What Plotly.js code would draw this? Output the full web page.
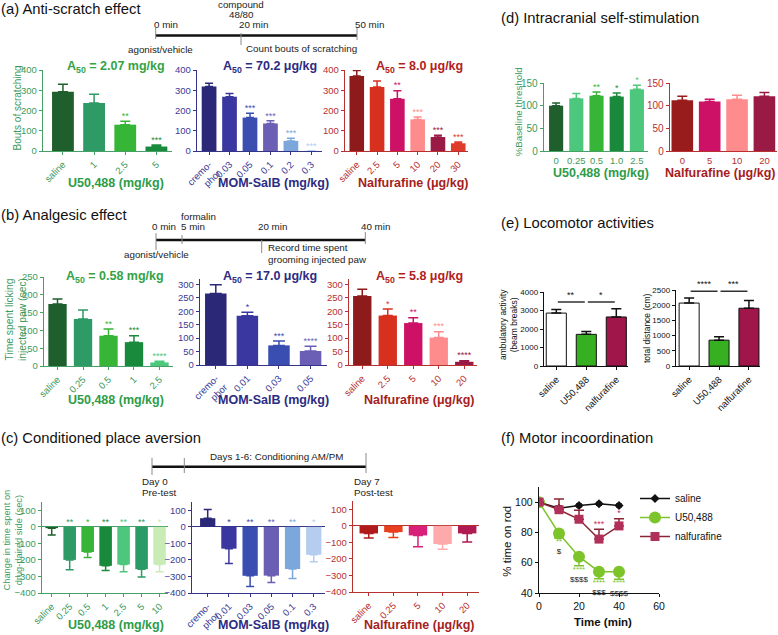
<!DOCTYPE html>
<html>
<head>
<meta charset="utf-8">
<script src="https://cdn.plot.ly/plotly-3.0.1.min.js"></script>
<style>html,body{margin:0;padding:0;background:#fff;}</style>
</head>
<body>
<div id="chart" style="width:778px;height:635px;"></div>
<script>
// (a) anti-scratch effect
const aU50Cats = ['saline', '1', '2.5', '5'];
const aU50Vals = [292, 237, 130, 22];
const aU50Err = [38, 43, 17, 8];
const aU50Stars = ['', '', '**', '***'];
const aMomCats = ['cremo-<br>phor', '0.03', '0.05', '0.1', '0.2', '0.3'];
const aMomVals = [319, 268, 165, 136, 50, 1];
const aMomErr = [15, 16, 22, 13, 13, 0];
const aMomStars = ['', '', '***', '***', '***', '***'];
const aNalCats = ['saline', '2.5', '5', '10', '20', '30'];
const aNalVals = [370, 316, 258, 156, 69, 38];
const aNalErr = [28, 30, 40, 12, 9, 6];
const aNalStars = ['', '', '**', '***', '***', '***'];

// (b) analgesic effect
const bU50Cats = ['saline', '0.25', '0.5', '1', '2.5'];
const bU50Vals = [174, 132, 85, 67, 10];
const bU50Err = [14, 25, 19, 18, 3];
const bU50Stars = ['', '', '**', '***', '****'];
const bMomCats = ['cremo-<br>phor', '0.01', '0.03', '0.05'];
const bMomVals = [266, 183, 73, 52];
const bMomErr = [33, 13, 16, 18];
const bMomStars = ['', '*', '***', '****'];
const bNalCats = ['saline', '2.5', '5', '10', '20'];
const bNalVals = [257, 184, 156, 102, 12];
const bNalErr = [25, 24, 20, 22, 4];
const bNalStars = ['', '*', '**', '***', '****'];

// (c) conditioned place aversion
const cU50Cats = ['saline', '0.25', '0.5', '1', '2.5', '5', '10'];
const cU50Vals = [-8, -200, -152, -236, -228, -256, -228];
const cU50Err = [42, 60, 34, 28, 44, 48, 44];
const cU50Stars = ['', '**', '*', '**', '**', '**', '*'];
const cMomCats = ['cremo-<br>phor', '0.01', '0.03', '0.05', '0.1', '0.3'];
const cMomVals = [52, -132, -296, -295, -255, -169];
const cMomErr = [52, 90, 64, 41, 57, 42];
const cMomStars = ['', '*', '**', '**', '**', '*'];
const cNalCats = ['saline', '0.25', '5', '10', '20'];
const cNalVals = [-46, -38, -58, -110, -46];
const cNalErr = [28, 32, 69, 31, 52];

// (d) ICSS
const dU50Cats = ['0', '0.25', '0.5', '1.0', '2.5'];
const dU50Vals = [100, 116, 122, 120, 136];
const dU50Err = [6, 11, 8, 8, 9];
const dU50Stars = ['', '', '**', '*', '*'];
const dNalCats = ['0', '5', '10', '20'];
const dNalVals = [112, 109, 114, 121];
const dNalErr = [9, 5, 9, 8];

// (e) locomotor
const eGroups = ['saline', 'U50,488', 'nalfurafine'];
const eAmbVals = [2860, 1710, 2650];
const eAmbErr = [200, 160, 450];
const eAmbSig = [[0, 1, '**'], [1, 2, '*']];
const eDistVals = [2070, 850, 1900];
const eDistErr = [165, 110, 255];
const eDistSig = [[0, 1, '****'], [1, 2, '***']];

// (f) rotarod
const fTime = [0, 10, 20, 30, 40];
const fSaline = [100, 96, 97.8, 98.9, 97.8];
const fSalineErr = [0, 1.5, 1, 1, 1];
const fU50 = [100, 79.3, 64, 54.1, 54];
const fU50Err = [0, 3, 6, 4.7, 5];
const fU50Stars = ['', '**', '****', '****', '****'];
const fU50Dollars = ['', '$', '$$$$', '$$$', '$$$$'];
const fNal = [100, 95, 88.7, 75.6, 84.3];
const fNalErr = [0, 7, 6, 6.5, 4.8];
const fNalStars = ['', '', '', '***', '*'];

// colours
const greenSet = ['#1f5f2d', '#2e9a66', '#36b536', '#198a3c', '#4cc77c', '#2a9a66', '#c9ecb6'];
const blueSet = ['#2b2878', '#3b37a0', '#3a4db0', '#6a5fb5', '#7ba7dc', '#b5cdee'];
const redSetA = ['#8e1b1b', '#d8301f', '#cc1166', '#ff8c8c', '#981a45', '#e03a2a'];
const redSetC = ['#b01a1a', '#e8401e', '#d8207a', '#ffaaaa', '#b01a52'];
const dGreen = ['#1f5f2d', '#4cc77c', '#36b536', '#198a3c', '#4cc77c'];
const dRed = ['#991c1c', '#cc1166', '#ff8c8c', '#981a45'];
const eColors = ['#ffffff', '#36b020', '#a0154a'];

const GREEN = {axis: '#45a066', tick: '#3c9a5c', title: '#2e9c48'};
const BLUE = {axis: '#34348a', tick: '#3b3b95', title: '#2c2c82'};
const RED = {axis: '#b83030', tick: '#b83030', title: '#a51e1e'};
const BLACK = {axis: '#111', tick: '#111', title: '#111'};

const W = 778, H = 635;
const FONT = 'Liberation Sans, Arial, Helvetica, sans-serif';
const fx = x => x / W;
const fy = y => 1 - y / H;
const sfx = n => (n === 1 ? '' : String(n));

const traces = [];
const layout = {
    width: W, height: H,
    margin: {l: 0, r: 0, t: 0, b: 0},
    paper_bgcolor: '#fff', plot_bgcolor: 'rgba(0,0,0,0)',
    font: {family: FONT, size: 10, color: '#111'},
    barmode: 'overlay',
    showlegend: true,
    legend: {x: fx(635), y: fy(484), xanchor: 'left', yanchor: 'top', font: {size: 10},
             bgcolor: 'rgba(0,0,0,0)', itemwidth: 30},
    annotations: [], shapes: []
};

function setAxes(n, box, st, cats) {
    const xa = {
        domain: [fx(box[0]), fx(box[1])], anchor: 'y' + sfx(n), range: st.xr,
        showline: true, linecolor: st.c.axis, linewidth: 1.3,
        ticks: st.noxticks ? '' : 'outside', ticklen: 3, tickwidth: 1, tickcolor: st.c.axis,
        tickangle: st.rot, tickfont: {size: st.xtick || st.tick, color: st.c.tick},
        showgrid: false, zeroline: false, fixedrange: true
    };
    if (cats) {
        Object.assign(xa, {type: 'category', categoryorder: 'array', categoryarray: cats,
                           tickmode: 'array', tickvals: cats, ticktext: cats});
    } else {
        Object.assign(xa, {dtick: st.dx, tick0: 0});
    }
    layout['xaxis' + sfx(n)] = xa;
    layout['yaxis' + sfx(n)] = {
        domain: [fy(box[3]), fy(box[2])], anchor: 'x' + sfx(n), range: st.yr,
        dtick: st.dy, tick0: st.t0 || 0,
        showline: true, linecolor: st.c.axis, linewidth: 1.3,
        ticks: 'outside', ticklen: 3, tickwidth: 1, tickcolor: st.c.axis,
        tickfont: {size: st.tick, color: st.c.tick},
        showgrid: false, zeroline: !!st.zero, zerolinecolor: st.c.axis, zerolinewidth: 1.3,
        fixedrange: true
    };
}

// keep only the points that carry a label
function labelled(xs, ys, labels) {
    const keep = labels.map((s, i) => i).filter(i => labels[i]);
    return {x: keep.map(i => xs[i]), y: keep.map(i => ys[i]), text: keep.map(i => labels[i]), idx: keep};
}

function barPanel(n, box, cats, vals, errs, colors, stars, st) {
    const xa = 'x' + sfx(n), ya = 'y' + sfx(n);
    cats.forEach((c, i) => {
        traces.push({
            type: 'bar', x: [c], y: [vals[i]], xaxis: xa, yaxis: ya, width: st.bw || 0.72,
            marker: {color: colors[i], line: {color: '#111', width: st.outline ? 1 : 0}},
            error_y: {type: 'data', symmetric: false,
                      array: [vals[i] >= 0 ? errs[i] : 0],
                      arrayminus: [vals[i] < 0 ? errs[i] : 0],
                      color: st.errColor || colors[i], thickness: 1.5, width: st.cap || 4},
            showlegend: false, hoverinfo: 'skip'
        });
    });
    if (stars) {
        const tops = vals.map((v, i) => (v >= 0 ? v + errs[i] : 0));
        const s = labelled(cats, tops, stars);
        traces.push({
            type: 'scatter', mode: 'text', x: s.x, y: s.y, text: s.text, xaxis: xa, yaxis: ya,
            textposition: 'top center',
            textfont: {size: 9, color: s.idx.map(i => colors[i])},
            cliponaxis: false, showlegend: false, hoverinfo: 'skip'
        });
    }
    setAxes(n, box, st, cats);
}

function note(text, x, y, o) {
    o = o || {};
    layout.annotations.push({
        text: text, xref: 'paper', yref: 'paper', x: fx(x), y: fy(y), showarrow: false,
        xanchor: o.xa || 'left', yanchor: 'middle', textangle: o.rot || 0, align: o.align || 'left',
        borderpad: 0,
        font: {family: FONT, size: o.size || 9.8, color: o.color || '#222'}
    });
}

function seg(x0, y0, x1, y1, w, color) {
    layout.shapes.push({type: 'line', xref: 'paper', yref: 'paper',
        x0: fx(x0), y0: fy(y0), x1: fx(x1), y1: fy(y1), line: {color: color, width: w}});
}

// ---- (a)
barPanel(1, [43, 172, 70, 151], aU50Cats, aU50Vals, aU50Err, greenSet, aU50Stars,
    {c: GREEN, xr: [-0.64, 3.5], yr: [0, 400], dy: 100, rot: -45, tick: 9.5, cap: 5, bw: 0.7});
barPanel(2, [197, 322, 70, 151], aMomCats, aMomVals, aMomErr, blueSet, aMomStars,
    {c: BLUE, xr: [-0.59, 5.52], yr: [0, 400], dy: 100, rot: -45, tick: 9.5, cap: 4});
barPanel(3, [345, 468, 70, 151], aNalCats, aNalVals, aNalErr, redSetA, aNalStars,
    {c: RED, xr: [-0.58, 5.48], yr: [0, 400], dy: 100, rot: -45, tick: 9.5, cap: 4});

// ---- (b)
barPanel(4, [44, 173, 277, 366], bU50Cats, bU50Vals, bU50Err, greenSet, bU50Stars,
    {c: GREEN, xr: [-0.53, 4.53], yr: [0, 250], dy: 50, rot: -45, tick: 9.5, cap: 5});
barPanel(5, [200, 327, 279, 365], bMomCats, bMomVals, bMomErr, blueSet, bMomStars,
    {c: BLUE, xr: [-0.5, 3.52], yr: [0, 320], dy: 50, rot: -45, tick: 9.5, cap: 6, bw: 0.68});
barPanel(6, [349, 477, 279, 365], bNalCats, bNalVals, bNalErr, redSetA, bNalStars,
    {c: RED, xr: [-0.52, 4.5], yr: [0, 320], dy: 50, rot: -45, tick: 9.5, cap: 5});

// ---- (c)
barPanel(7, [42, 168, 502, 593], cU50Cats, cU50Vals, cU50Err, greenSet, cU50Stars,
    {c: GREEN, xr: [-0.54, 6.47], yr: [-400, 150], dy: 100, t0: -400, rot: -45, tick: 9.5, cap: 4, zero: true, bw: 0.7});
barPanel(8, [192, 325, 502, 593], cMomCats, cMomVals, cMomErr, blueSet, cMomStars,
    {c: BLUE, xr: [-0.74, 5.53], yr: [-400, 150], dy: 100, t0: -400, rot: -45, tick: 9.5, cap: 4, zero: true});
barPanel(9, [353, 479, 501, 592], cNalCats, cNalVals, cNalErr, redSetC, null,
    {c: RED, xr: [-0.64, 4.48], yr: [-400, 150], dy: 100, t0: -400, rot: -45, tick: 9.5, cap: 5, zero: true, bw: 0.75});

// ---- (d)
barPanel(10, [544, 648, 83, 151], dU50Cats, dU50Vals, dU50Err, dGreen, dU50Stars,
    {c: GREEN, xr: [-0.6, 4.55], yr: [0, 150], dy: 50, rot: 0, tick: 10, xtick: 9.5, noxticks: true, cap: 4, bw: 0.7});
barPanel(11, [670, 777, 83, 151], dNalCats, dNalVals, dNalErr, dRed, null,
    {c: RED, xr: [-0.45, 3.46], yr: [0, 150], dy: 50, rot: 0, tick: 10, xtick: 9.5, noxticks: true, cap: 5, bw: 0.79});

// ---- (e)
const eStyle = {c: BLACK, rot: -45, tick: 8, xtick: 9.5, cap: 5, bw: 0.67, outline: true, errColor: '#111'};
barPanel(12, [544, 628, 292, 366], eGroups, eAmbVals, eAmbErr, eColors, null,
    Object.assign({xr: [-0.41, 2.39], yr: [0, 4000], dy: 1000}, eStyle));
barPanel(13, [676, 760, 290, 366], eGroups, eDistVals, eDistErr, eColors, null,
    Object.assign({xr: [-0.44, 2.37], yr: [0, 2500], dy: 500}, eStyle));

function sigBrackets(n, sig, vals, errs, span) {
    const top = Math.max(...vals.map((v, i) => v + errs[i])) + 0.09 * span;
    sig.forEach(([a, b, s]) => {
        layout.shapes.push({type: 'line', xref: 'x' + sfx(n), yref: 'y' + sfx(n),
            x0: a + 0.05, x1: b - 0.05, y0: top, y1: top, line: {color: '#111', width: 1.3}});
        layout.annotations.push({text: s, xref: 'x' + sfx(n), yref: 'y' + sfx(n), x: (a + b) / 2, y: top,
            yanchor: 'bottom', showarrow: false, font: {size: 9, color: '#111'}});
    });
}
sigBrackets(12, eAmbSig, eAmbVals, eAmbErr, 4000);
sigBrackets(13, eDistSig, eDistVals, eDistErr, 2500);

// ---- (f)
traces.push({type: 'scatter', mode: 'lines+markers', name: 'saline', x: fTime, y: fSaline,
    xaxis: 'x14', yaxis: 'y14', line: {color: '#111', width: 1.5},
    marker: {symbol: 'diamond', size: 7, color: '#111'},
    error_y: {type: 'data', array: fSalineErr, color: '#111', thickness: 1.2, width: 3}});
traces.push({type: 'scatter', mode: 'lines+markers', name: 'U50,488', x: fTime, y: fU50,
    xaxis: 'x14', yaxis: 'y14', line: {color: '#7dc42a', width: 1.5},
    marker: {symbol: 'circle', size: 12, color: '#7dc42a'},
    error_y: {type: 'data', symmetric: false, array: fTime.map(() => 0), arrayminus: fU50Err,
              color: '#7dc42a', thickness: 1.5, width: 5}});
traces.push({type: 'scatter', mode: 'lines+markers', name: 'nalfurafine', x: fTime, y: fNal,
    xaxis: 'x14', yaxis: 'y14', line: {color: '#8a2535', width: 1.5},
    marker: {symbol: 'square', size: 9, color: '#b0305a'},
    error_y: {type: 'data', symmetric: false, array: fNalErr, arrayminus: fTime.map(() => 0),
              color: '#8a2535', thickness: 1.5, width: 5}});
const fU50Lab = labelled(fTime, fU50.map((v, i) => v - fU50Err[i]),
    fU50Stars.map((s, i) => (s ? '<span style="color:#7dc42a">' + s + '</span><br>' + fU50Dollars[i] : '')));
traces.push({type: 'scatter', mode: 'text', x: fU50Lab.x, y: fU50Lab.y, text: fU50Lab.text,
    xaxis: 'x14', yaxis: 'y14', textposition: 'bottom center', textfont: {size: 8, color: '#222'},
    cliponaxis: false, showlegend: false, hoverinfo: 'skip'});
const fNalLab = labelled(fTime, fNal.map((v, i) => v + fNalErr[i]), fNalStars);
traces.push({type: 'scatter', mode: 'text', x: fNalLab.x, y: fNalLab.y, text: fNalLab.text,
    xaxis: 'x14', yaxis: 'y14', textposition: 'top center',
    textfont: {size: 9, color: '#d4305c'}, cliponaxis: false, showlegend: false, hoverinfo: 'skip'});
setAxes(14, [539, 659, 487, 593], {c: BLACK, xr: [0, 60], dx: 20, yr: [40, 110], dy: 20, t0: 40, rot: 0, tick: 10.5}, null);
layout.yaxis14.tickvals = [40, 60, 80, 100];
layout.yaxis14.tickmode = 'array';

// ---- panel titles
note('(a) Anti-scratch effect', 0, 9, {size: 14.8, color: '#111'});
note('(b) Analgesic effect', 0, 215, {size: 14.8, color: '#111'});
note('(c) Conditioned place aversion', 0, 438, {size: 14.8, color: '#111'});
note('(d) Intracranial self-stimulation', 500, 18, {size: 14.8, color: '#111'});
note('(e) Locomotor activities', 500, 223, {size: 14.8, color: '#111'});
note('(f) Motor incoordination', 500, 438, {size: 14.8, color: '#111'});

// ---- A50 labels and drug axis titles
const a50 = (t, x, y, c) => note('<b>A<sub>50</sub> = ' + t + '</b>', x, y, {xa: 'center', size: 12.5, color: c});
a50('2.07 mg/kg', 115.5, 67, '#33a345');
a50('70.2 μg/kg', 270, 67, BLUE.title);
a50('8.0 μg/kg', 419.5, 66.7, '#b32020');
a50('0.58 mg/kg', 115.3, 277, '#33a345');
a50('17.0 μg/kg', 269.5, 276.5, BLUE.title);
a50('5.8 μg/kg', 419, 276.7, '#b32020');

const drug = (t, x, y, c) => note('<b>' + t + '</b>', x, y, {xa: 'center', size: 12.5, color: c});
[183, 400, 625].forEach(y => {
    drug('U50,488 (mg/kg)', 116, y, GREEN.title);
    drug('MOM-SalB (mg/kg)', 273.5, y, BLUE.title);
    drug('Nalfurafine (μg/kg)', y === 183 ? 413.5 : 418.7, y, RED.title);
});
drug('U50,488 (mg/kg)', 600.8, 173, GREEN.title);
drug('Nalfurafine (μg/kg)', 720.3, 173, RED.title);
note('<b>Time (min)</b>', 602.5, 622.3, {xa: 'center', size: 11.5, color: '#111'});

// ---- y titles
note('Bouts of scratching', 17, 108.5, {xa: 'center', rot: -90, size: 10, color: GREEN.tick});
note('Time spent licking<br>injected paw (sec)', 16, 320, {xa: 'center', rot: -90, size: 10.3, color: GREEN.tick, align: 'center'});
note('Change in time spent on<br>drug-paired side (sec)', 12.5, 540, {xa: 'center', rot: -90, size: 9.3, color: GREEN.tick, align: 'center'});
note('%Baseline threshold', 518, 112.5, {xa: 'center', rot: -90, size: 9.8, color: GREEN.tick});
note('ambulatory activity<br>(beam breaks)', 508, 325, {xa: 'center', rot: -90, size: 8.5, color: '#111', align: 'center'});
note('total distance (cm)', 647, 328, {xa: 'center', rot: -90, size: 8.5, color: '#111'});
note('% time on rod', 507, 541.7, {xa: 'center', rot: -90, size: 11.5, color: '#111'});

// ---- timelines
const TL = '#111', TK = '#8a8a8a';
seg(155.7, 35.5, 357, 35.5, 2.5, TL);
seg(155.7, 28, 155.7, 39, 1, TK);
seg(241, 33, 241, 45, 1, TK);
seg(357, 28, 357, 40, 1, TK);
note('compound', 241, 5, {xa: 'center'});
note('48/80', 241.5, 14.5, {xa: 'center'});
note('0 min', 153, 24.3);
note('20 min', 238, 24.3);
note('50 min', 354, 24.3);
note('agonist/vehicle', 160, 49, {xa: 'center'});
note('Count bouts of scratching', 245, 48.5);

seg(156, 240, 365.3, 240, 2.5, TL);
seg(156, 233, 156, 250, 1, TK);
seg(182, 235, 182, 244, 1, TK);
seg(261.7, 240, 261.7, 253, 1, TK);
seg(365.3, 232, 365.3, 244, 1, TK);
note('formalin', 180, 216.7);
note('0 min', 150.7, 226.7);
note('5 min', 180, 226.7);
note('20 min', 256.7, 226.7);
note('40 min', 360, 226.7);
note('agonist/vehicle', 156, 255, {xa: 'center'});
note('Record time spent', 266.7, 247.7);
note('grooming injected paw', 266.7, 259.3);

seg(152, 466.7, 366, 466.7, 2.5, TL);
seg(152, 457.7, 152, 475, 1, TK);
seg(184.3, 458, 184.3, 473, 1, TK);
seg(366, 453, 366, 473, 1, TK);
note('Days 1-6: Conditioning AM/PM', 209.3, 456);
note('Day 0', 141, 481);
note('Pre-test', 141, 492.7);
note('Day 7', 353.3, 481);
note('Post-test', 353.3, 492.7);

Plotly.newPlot('chart', traces, layout, {staticPlot: true, displayModeBar: false});
</script>
</body>
</html>
